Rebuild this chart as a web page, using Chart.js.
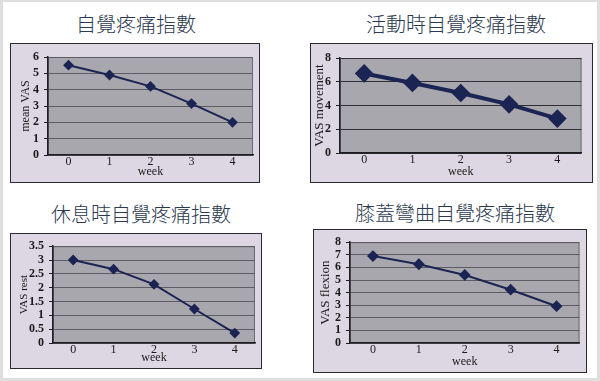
<!DOCTYPE html>
<html>
<head>
<meta charset="utf-8">
<script src="https://cdn.jsdelivr.net/npm/chart.js@4"></script>
<style>
  html, body { margin: 0; padding: 0; }
  body {
    width: 600px; height: 381px; position: relative; overflow: hidden;
    background: #ffffff;
  }
  .frame {
    position: absolute; left: 0; top: 0; width: 600px; height: 381px;
    box-sizing: border-box; border: 3px solid #dedede; border-top-width: 2px;
  }
  .title {
    position: absolute; width: 300px; text-align: center;
    font-family: "Noto Sans CJK TC", "Noto Sans CJK SC", sans-serif;
    font-size: 20px; font-weight: 300; color: #2b3a4f; line-height: 24px;
  }
  .scan {
    position: absolute; box-sizing: border-box;
    background: #dcd7e2; border: 1px solid #2a2a30;
  }
</style>
</head>
<body>
<div class="frame"></div>

<div class="title" style="left:-14px; top:12px;">自覺疼痛指數</div>
<div class="title" style="left:306px; top:12px;">活動時自覺疼痛指數</div>
<div class="title" style="left:-9px; top:202px;">休息時自覺疼痛指數</div>
<div class="title" style="left:305px; top:201px;">膝蓋彎曲自覺疼痛指數</div>

<div class="scan" style="left:10px; top:43px; width:250px; height:140px;"><canvas id="c1"></canvas></div>
<div class="scan" style="left:310px; top:43px; width:283px; height:140px;"><canvas id="c2"></canvas></div>
<div class="scan" style="left:10px; top:233px; width:252px; height:136px;"><canvas id="c3"></canvas></div>
<div class="scan" style="left:313px; top:229px; width:274px; height:144px;"><canvas id="c4"></canvas></div>

<script>
// weeks after treatment
const weeks = ["0", "1", "2", "3", "4"];

// VAS scores
const vasMean = [5.5, 4.9, 4.2, 3.15, 2.0];
const vasMovement = [6.7, 5.9, 5.05, 4.1, 2.9];
const vasRest = [3.0, 2.67, 2.12, 1.23, 0.36];
const vasFlexion = [6.9, 6.25, 5.4, 4.23, 2.92];

const lineColour = "#1b2452";
const serif = "'Liberation Serif', 'DejaVu Serif', serif";

// grey plot area + thin outline like the scanned Excel charts
const plotBackground = {
    id: "plotBackground",
    beforeDraw(chart) {
        const a = chart.chartArea;
        const ctx = chart.ctx;
        ctx.save();
        ctx.fillStyle = "#a8a7ad";
        ctx.fillRect(a.left, a.top, a.right - a.left, a.bottom - a.top);
        ctx.strokeStyle = "#6a6a70";
        ctx.lineWidth = 1;
        ctx.strokeRect(a.left + 0.5, a.top + 0.5, a.right - a.left - 1, a.bottom - a.top - 1);
        ctx.restore();
    }
};

function makeChart(id, values, yLabel, yMax, yStep, box, lineWidth, pointRadius, gridColour, labelSize, labelPad) {
    new Chart(document.getElementById(id), {
        type: "line",
        data: {
            labels: weeks,
            datasets: [{
                data: values,
                borderColor: lineColour,
                backgroundColor: lineColour,
                borderWidth: lineWidth,
                pointStyle: "rectRot",
                pointRadius: pointRadius,
                tension: 0
            }]
        },
        options: {
            responsive: true,
            maintainAspectRatio: false,
            animation: false,
            layout: { padding: { top: box.top, right: box.right, left: 0, bottom: 0 } },
            plugins: { legend: { display: false }, tooltip: { enabled: false } },
            scales: {
                x: {
                    offset: true,
                    grid: { display: false, drawTicks: false, tickLength: 0 },
                    border: { color: "#1e1e22", width: 1.5 },
                    ticks: { color: "#1a1a1a", padding: 0, font: { family: serif, size: 12 } },
                    title: { display: true, text: "week", color: "#1a1a1a", padding: { top: 0, bottom: 3 }, font: { family: serif, size: 12 } },
                    afterFit: s => { s.height = box.bottom; }
                },
                y: {
                    min: 0,
                    max: yMax,
                    ticks: {
                        stepSize: yStep, autoSkip: false, color: "#1a1a1a", padding: 5,
                        font: { family: serif, size: 12, weight: "bold" },
                        callback: v => String(v)
                    },
                    grid: { color: gridColour, lineWidth: 1, tickLength: 4, tickColor: "#1e1e22" },
                    border: { color: "#1e1e22", width: 1.5 },
                    title: { display: true, text: yLabel, color: "#1a1a1a", padding: { top: labelPad, bottom: 0 }, font: { family: serif, size: labelSize } },
                    afterFit: s => { s.width = box.left; }
                }
            }
        },
        plugins: [plotBackground]
    });
}

makeChart("c1", vasMean, "mean VAS", 6, 1, { left: 37, top: 13, right: 4, bottom: 27 }, 2, 4, "#5c5c62", 12, 8);
makeChart("c2", vasMovement, "VAS movement", 8, 2, { left: 29, top: 14, right: 9, bottom: 29 }, 4, 6.5, "#2e2e34", 13, 1);
makeChart("c3", vasRest, "VAS rest", 3.5, 0.5, { left: 42, top: 11, right: 4, bottom: 25 }, 2, 4, "#5c5c62", 11, 7);
makeChart("c4", vasFlexion, "VAS flexion", 8, 1, { left: 36, top: 5, right: 6, bottom: 29 }, 2, 4.5, "#5c5c62", 13, 4);
</script>
</body>
</html>
